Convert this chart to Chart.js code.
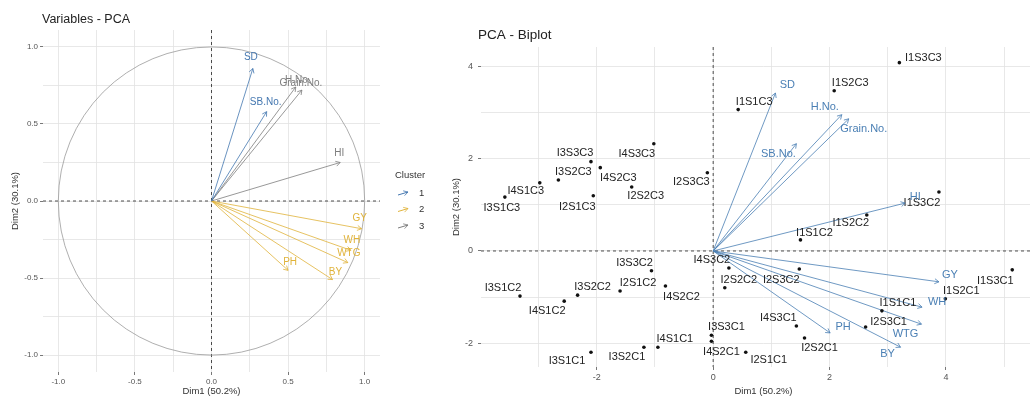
<!DOCTYPE html>
<html>
<head>
<meta charset="utf-8">
<script src="https://cdn.jsdelivr.net/npm/chart.js@4"></script>
<style>
  body { margin: 0; background: #fff; width: 1030px; height: 397px; overflow: hidden; position: relative; }
  #left { position: absolute; left: 0; top: 0; width: 440px; height: 397px; }
  #right { position: absolute; left: 440px; top: 0; width: 610px; height: 397px; }
</style>
</head>
<body>
<div id="left"><canvas id="varChart"></canvas></div>
<div id="right"><canvas id="biplotChart"></canvas></div>
<script>
// variables - correlation circle
const varNames   = ['SD', 'SB.No.', 'H.No.', 'Grain.No.', 'HI', 'GY', 'WH', 'WTG', 'PH', 'BY'];
const varCluster = ['1', '1', '3', '3', '3', '2', '2', '2', '2', '2'];
const varDim1    = [0.27, 0.36, 0.55, 0.59, 0.84, 0.98, 0.91, 0.89, 0.50, 0.79];
const varDim2    = [0.86, 0.58, 0.74, 0.72, 0.25, -0.18, -0.32, -0.40, -0.45, -0.51];
const clusterLevels = ['1', '2', '3'];

// biplot - variable arrows
const bipVarDim1 = [1.07, 1.43, 2.21, 2.33, 3.30, 3.88, 3.59, 3.58, 2.01, 3.22];
const bipVarDim2 = [3.43, 2.33, 2.96, 2.87, 1.04, -0.67, -1.22, -1.59, -1.78, -2.09];

// biplot - individuals
const obsNames = ['I1S1C1', 'I1S2C1', 'I1S3C1', 'I2S1C1', 'I2S2C1', 'I2S3C1', 'I3S1C1', 'I3S2C1', 'I3S3C1', 'I4S1C1', 'I4S2C1', 'I4S3C1',
                  'I1S1C2', 'I1S2C2', 'I1S3C2', 'I2S1C2', 'I2S2C2', 'I2S3C2', 'I3S1C2', 'I3S2C2', 'I3S3C2', 'I4S1C2', 'I4S2C2', 'I4S3C2',
                  'I1S1C3', 'I1S2C3', 'I1S3C3', 'I2S1C3', 'I2S2C3', 'I2S3C3', 'I3S1C3', 'I3S2C3', 'I3S3C3', 'I4S1C3', 'I4S2C3', 'I4S3C3'];
const obsDim1 = [2.90, 3.99, 5.14, 0.56, 1.57, 2.62, -2.10, -1.19, -0.03, -0.95, -0.03, 1.43,
                 1.50, 2.64, 3.88, -1.60, 0.20, 1.48, -3.32, -2.33, -1.06, -2.56, -0.82, 0.27,
                 0.43, 2.08, 3.20, -2.06, -1.40, -0.10, -3.58, -2.66, -2.10, -2.98, -1.94, -1.02];
const obsDim2 = [-1.30, -1.04, -0.41, -2.20, -1.89, -1.65, -2.20, -2.09, -1.83, -2.09, -1.96, -1.63,
                 0.24, 0.78, 1.28, -0.87, -0.80, -0.39, -0.98, -0.96, -0.43, -1.09, -0.76, -0.37,
                 3.07, 3.48, 4.09, 1.20, 1.39, 1.70, 1.17, 1.54, 1.94, 1.48, 1.81, 2.33];

// label placement (pixel nudges, like ggrepel left them)
const leftVarNudge = { 'SD': [-2, -11], 'SB.No.': [-1, -9], 'H.No.': [2, -7], 'Grain.No.': [-1, -7], 'HI': [-1, -9],
                       'GY': [-2, -10], 'WH': [1, -10], 'WTG': [1, -9], 'PH': [2, -8], 'BY': [3, -7] };
const rightVarNudge = { 'SD': [12, -8], 'SB.No.': [-18, 10], 'H.No.': [-17, -8], 'Grain.No.': [15, 10], 'HI': [10, -6],
                        'GY': [11, -7], 'WH': [15, -5], 'WTG': [-16, 10], 'PH': [13, -6], 'BY': [-13, 7] };
const obsNudge = {
  I1S1C1: [16, -8], I1S2C1: [16, -8], I1S3C1: [-17, 11], I2S1C1: [23, 8], I2S2C1: [15, 10], I2S3C1: [23, -5],
  I3S1C1: [-24, 9], I3S2C1: [-17, 10], I3S3C1: [15, -8], I4S1C1: [17, -8], I4S2C1: [10, 11], I4S3C1: [-18, -8],
  I1S1C2: [14, -7], I1S2C2: [-16, 8], I1S3C2: [-17, 11], I2S1C2: [18, -8], I2S2C2: [14, -8], I2S3C2: [-18, 11],
  I3S1C2: [-17, -8], I3S2C2: [15, -8], I3S3C2: [-17, -8], I4S1C2: [-17, 10], I4S2C2: [16, 11], I4S3C2: [-17, -8],
  I1S1C3: [16, -8], I1S2C3: [16, -8], I1S3C3: [24, -5], I2S1C3: [-16, 11], I2S2C3: [14, 9], I2S3C3: [-16, 9],
  I3S1C3: [-3, 11], I3S2C3: [15, -8], I3S3C3: [-16, -9], I4S1C3: [-14, 8], I4S2C3: [18, 10], I4S3C3: [-17, 10]
};

const FONT = '"Liberation Sans", Arial, sans-serif';
const clusterColors = { '1': '#4477b0', '2': '#e0b33a', '3': '#7d7d7d' };
const steel = '#4a7fb4';
const gridColor = '#e2e2e2';

function drawArrowHead(ctx, x0, y0, x1, y1, color) {
  const a = Math.atan2(y1 - y0, x1 - x0), len = 5, spread = Math.PI / 6;
  ctx.save();
  ctx.strokeStyle = color; ctx.lineWidth = 0.8;
  ctx.beginPath();
  ctx.moveTo(x1 - len * Math.cos(a - spread), y1 - len * Math.sin(a - spread));
  ctx.lineTo(x1, y1);
  ctx.lineTo(x1 - len * Math.cos(a + spread), y1 - len * Math.sin(a + spread));
  ctx.stroke();
  ctx.restore();
}

// dashed lines through the origin
const zeroLines = {
  id: 'zeroLines',
  beforeDatasetsDraw(chart) {
    const { ctx, chartArea: a, scales: { x, y } } = chart;
    const px = x.getPixelForValue(0), py = y.getPixelForValue(0);
    ctx.save();
    ctx.strokeStyle = '#222'; ctx.lineWidth = 0.8; ctx.setLineDash([3, 3]);
    ctx.beginPath();
    ctx.moveTo(px, a.top); ctx.lineTo(px, a.bottom);
    ctx.moveTo(a.left, py); ctx.lineTo(a.right, py);
    ctx.stroke();
    ctx.restore();
  }
};

// unit circle for the correlation plot
const unitCircle = {
  id: 'unitCircle',
  beforeDatasetsDraw(chart) {
    const { ctx, scales: { x, y } } = chart;
    const cx = x.getPixelForValue(0), cy = y.getPixelForValue(0);
    const rx = x.getPixelForValue(1) - cx, ry = cy - y.getPixelForValue(1);
    ctx.save();
    ctx.strokeStyle = '#9a9a9a'; ctx.lineWidth = 0.8;
    ctx.beginPath(); ctx.ellipse(cx, cy, rx, ry, 0, 0, Math.PI * 2); ctx.stroke();
    ctx.restore();
  }
};

function makeLabels(varNudge, varFont, obsFont) {
  return {
    id: 'pcaLabels',
    afterDatasetsDraw(chart) {
      const ctx = chart.ctx;
      chart.data.datasets.forEach((ds, i) => {
        const meta = chart.getDatasetMeta(i);
        ctx.save();
        ctx.textAlign = 'center'; ctx.textBaseline = 'middle';
        if (ds.kind === 'arrow') {
          const p0 = meta.data[0], p1 = meta.data[1];
          drawArrowHead(ctx, p0.x, p0.y, p1.x, p1.y, ds.borderColor);
          const d = varNudge[ds.label] || [0, -9];
          ctx.font = varFont; ctx.fillStyle = ds.borderColor;
          ctx.fillText(ds.label, p1.x + d[0], p1.y + d[1]);
        } else if (ds.kind === 'obs') {
          ctx.font = obsFont; ctx.fillStyle = '#222';
          meta.data.forEach((pt, k) => {
            const d = obsNudge[obsNames[k]] || [0, -8];
            ctx.fillText(obsNames[k], pt.x + d[0], pt.y + d[1]);
          });
        }
        ctx.restore();
      });
    }
  };
}

function panelTitle(text, x, y, size) {
  return {
    id: 'panelTitle',
    afterDraw(chart) {
      const ctx = chart.ctx;
      ctx.save();
      ctx.font = size + 'px ' + FONT; ctx.fillStyle = '#222';
      ctx.textAlign = 'left'; ctx.textBaseline = 'middle';
      ctx.fillText(text, x, y);
      ctx.restore();
    }
  };
}

const clusterLegend = {
  id: 'clusterLegend',
  afterDraw(chart) {
    const ctx = chart.ctx, x = chart.chartArea.right + 15, y0 = 175;
    ctx.save();
    ctx.font = '9.5px ' + FONT; ctx.fillStyle = '#333';
    ctx.textAlign = 'left'; ctx.textBaseline = 'middle';
    ctx.fillText('Cluster', x, y0);
    clusterLevels.forEach((c, i) => {
      const y = y0 + 18 + i * 16.5;
      ctx.strokeStyle = clusterColors[c]; ctx.lineWidth = 1;
      ctx.beginPath(); ctx.moveTo(x + 3, y + 2); ctx.lineTo(x + 13, y - 1); ctx.stroke();
      drawArrowHead(ctx, x + 3, y + 2, x + 13, y - 1, clusterColors[c]);
      ctx.fillStyle = '#333';
      ctx.fillText(c, x + 24, y);
    });
    ctx.restore();
  }
};

function axis(min, max, step, isMajor, fmt, fontSize, titleText, titlePad, fit, tickPad) {
  return {
    type: 'linear', min: min, max: max,
    border: { display: false },
    grid: {
      color: gridColor, lineWidth: 0.8, tickLength: 3, tickWidth: 0.8,
      tickColor: c => (c.tick && isMajor(c.tick.value)) ? '#555' : 'rgba(0,0,0,0)'
    },
    ticks: {
      stepSize: step, includeBounds: false, autoSkip: false, maxRotation: 0, padding: tickPad || 2,
      color: '#555', font: { family: FONT, size: fontSize },
      callback: v => isMajor(v) ? fmt(v) : ''
    },
    title: { display: true, text: titleText, color: '#333', font: { family: FONT, size: 9.5 }, padding: titlePad },
    afterFit: fit
  };
}

const halfStep = v => Math.abs(v * 2 - Math.round(v * 2)) < 1e-6;
const evenStep = v => Math.abs(v / 2 - Math.round(v / 2)) < 1e-6;

// left panel
const varDatasets = varNames.map((n, i) => ({
  label: n, kind: 'arrow',
  data: [{ x: 0, y: 0 }, { x: varDim1[i], y: varDim2[i] }],
  showLine: true, borderColor: clusterColors[varCluster[i]], borderWidth: 0.8, pointRadius: 0
}));

new Chart(document.getElementById('varChart'), {
  type: 'scatter',
  data: { datasets: varDatasets },
  options: {
    responsive: true, maintainAspectRatio: false, animation: false,
    layout: { padding: { left: 0, right: 60, top: 30, bottom: 0 } },
    plugins: { legend: { display: false }, tooltip: { enabled: false } },
    scales: {
      x: axis(-1.1, 1.1, 0.25, halfStep, v => v.toFixed(1), 8, 'Dim1 (50.2%)', { top: 0, bottom: 0 }, s => { s.height = 25; }),
      y: axis(-1.11, 1.11, 0.25, halfStep, v => v.toFixed(1), 8, 'Dim2 (30.1%)', { top: 10, bottom: 0 }, s => { s.width = 43; })
    }
  },
  plugins: [zeroLines, unitCircle, makeLabels(leftVarNudge, '10px ' + FONT, '10px ' + FONT), panelTitle('Variables - PCA', 42, 20, 12.5), clusterLegend]
});

// right panel (its right edge runs past the window, as in the cropped original)
const obsDataset = {
  label: 'individuals', kind: 'obs',
  data: obsNames.map((n, i) => ({ x: obsDim1[i], y: obsDim2[i] })),
  pointRadius: 1.8, backgroundColor: '#111', borderWidth: 0
};
const bipArrows = varNames.map((n, i) => ({
  label: n, kind: 'arrow',
  data: [{ x: 0, y: 0 }, { x: bipVarDim1[i], y: bipVarDim2[i] }],
  showLine: true, borderColor: steel, borderWidth: 0.8, pointRadius: 0
}));

new Chart(document.getElementById('biplotChart'), {
  type: 'scatter',
  data: { datasets: [obsDataset].concat(bipArrows) },
  options: {
    responsive: true, maintainAspectRatio: false, animation: false,
    layout: { padding: { left: 0, right: 3, top: 47, bottom: 0 } },
    plugins: { legend: { display: false }, tooltip: { enabled: false } },
    scales: {
      x: axis(-3.99, 5.72, 1, evenStep, v => String(v), 9, 'Dim1 (50.2%)', { top: 0, bottom: 0 }, s => { s.height = 30; }),
      y: axis(-2.52, 4.43, 1, evenStep, v => String(v), 9, 'Dim2 (30.1%)', { top: 11, bottom: 0 }, s => { s.width = 41; }, 5)
    }
  },
  plugins: [zeroLines, makeLabels(rightVarNudge, '11px ' + FONT, '11px ' + FONT), panelTitle('PCA - Biplot', 38, 35, 13.5)]
});
</script>
</body>
</html>
